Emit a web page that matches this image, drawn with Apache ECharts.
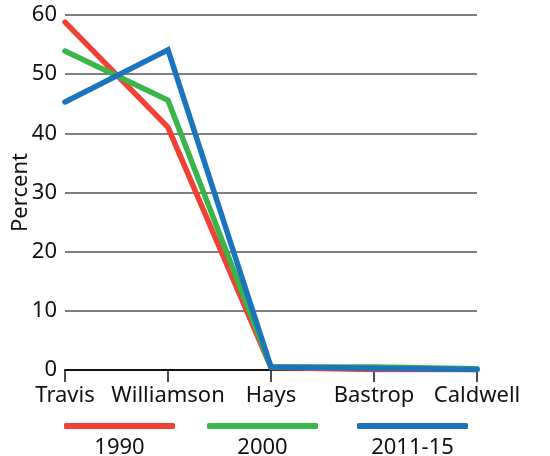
<!DOCTYPE html>
<html>
<head>
<meta charset="utf-8">
<script src="https://cdn.jsdelivr.net/npm/echarts@6/dist/echarts.min.js"></script>
<style>
  html, body { margin: 0; padding: 0; background: #fff; }
  #chart { width: 550px; height: 456px; }
</style>
</head>
<body>
<div id="chart"></div>
<script>
// Counties along the x axis
const counties = ['Travis', 'Williamson', 'Hays', 'Bastrop', 'Caldwell'];

// Percent share per county, one list per period
const values1990 = [58.8, 41.0, 0.4, 0.1, 0.1];
const values2000 = [53.9, 45.6, 0.5, 0.5, 0.2];
const values2011 = [45.3, 54.1, 0.5, 0.3, 0.1];

const seriesNames = ['1990', '2000', '2011-15'];
const seriesColors = ['#EF4136', '#3AB54A', '#1C75BC'];
const seriesValues = [values1990, values2000, values2011];

const yTicks = { min: 0, max: 60, interval: 10 };

const fontFamily = '"Noto Sans", "Open Sans", sans-serif';
const textColor = '#111';
const chart = echarts.init(document.getElementById('chart'), null, { renderer: 'canvas' });

// Legend: a thick swatch for each series with its name centred beneath it
const swatchLefts = [64, 207, 357];
const swatchWidth = 111;
const legends = [];
seriesNames.forEach((name, i) => {
  legends.push({
    data: [name],
    left: swatchLefts[i],
    top: 423,
    padding: 0,
    icon: 'roundRect',
    itemWidth: swatchWidth,
    itemHeight: 6,
    formatter: () => '',
    textStyle: { fontSize: 1 }
  });
  legends.push({
    data: [{ name: name, icon: 'none' }],
    left: swatchLefts[i] - 5,
    top: 437,
    padding: 0,
    itemWidth: 0,
    itemHeight: 0,
    formatter: n => '{c|' + n + '}',
    textStyle: {
      rich: {
        c: { width: swatchWidth, align: 'center', fontSize: 22, color: textColor, fontFamily: fontFamily }
      }
    }
  });
});

chart.setOption({
  animation: false,
  color: seriesColors,
  legend: legends,
  grid: { left: 65, right: 73, top: 15, bottom: 86, outerBoundsMode: 'none' },
  xAxis: {
    type: 'category',
    data: counties,
    boundaryGap: false,
    axisLine: { lineStyle: { color: textColor, width: 2 } },
    axisTick: { alignWithLabel: true, length: 12, lineStyle: { color: textColor, width: 1.5 } },
    axisLabel: { color: textColor, fontSize: 22, fontFamily: fontFamily, margin: 15, interval: 0 },
    splitLine: { show: false }
  },
  yAxis: {
    type: 'value',
    min: yTicks.min,
    max: yTicks.max,
    interval: yTicks.interval,
    name: 'Percent',
    nameLocation: 'middle',
    nameGap: 33,
    nameMoveOverlap: false,
    nameTextStyle: { color: textColor, fontSize: 22, fontFamily: fontFamily },
    axisLine: { show: false },
    axisTick: { show: false },
    axisLabel: { color: textColor, fontSize: 22, fontFamily: fontFamily, margin: 8 },
    splitLine: { lineStyle: { color: '#555', width: 1.5 } }
  },
  series: seriesNames.map((name, i) => ({
    name: name,
    type: 'line',
    data: seriesValues[i],
    showSymbol: false,
    symbol: 'none',
    lineStyle: { width: 5.5, color: seriesColors[i], cap: 'round', join: 'miter' },
    itemStyle: { color: seriesColors[i] },
    z: 2 + i
  }))
});
</script>
</body>
</html>
